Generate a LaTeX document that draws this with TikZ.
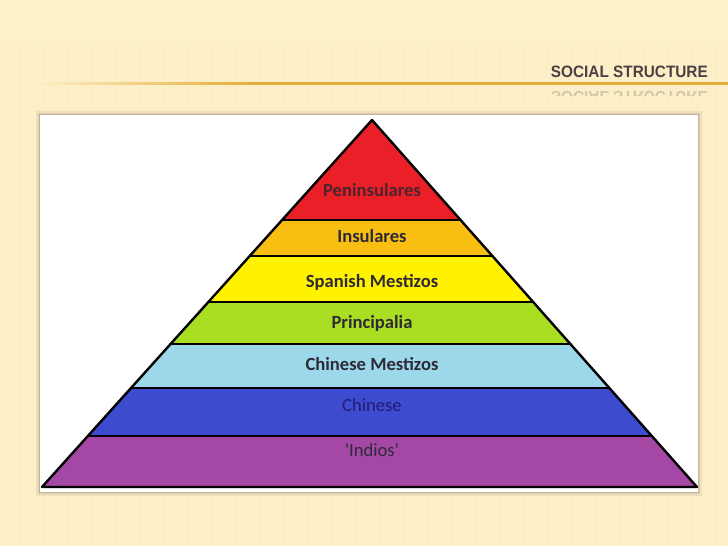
\documentclass[tikz,border=0pt]{standalone}
\usepackage{fontspec}
\setmainfont{Carlito}
\newfontfamily\titlefont[FakeStretch=0.93]{Liberation Sans}
\usetikzlibrary{calc,fadings}
\definecolor{cream}{HTML}{FEF0C9}
\definecolor{stripe}{HTML}{EBD9A6}
\definecolor{rule}{HTML}{E6AE3C}
\definecolor{titlecol}{HTML}{4A4242}
\definecolor{lred}{HTML}{EA1F27}
\definecolor{lorange}{HTML}{F8BE12}
\definecolor{lyellow}{HTML}{FFF200}
\definecolor{lgreen}{HTML}{A9DE22}
\definecolor{lcyan}{HTML}{9CD8EA}
\definecolor{lblue}{HTML}{3D4BCF}
\definecolor{lpurple}{HTML}{A447A5}
\definecolor{labcol}{HTML}{2E2A35}
\tikzset{
  layer/.style={draw=none},
  lab/.style={font=\fontsize{18.6}{21}\selectfont\bfseries, text=labcol, inner sep=0pt},
  labthin/.style={font=\fontsize{18.6}{21}\selectfont, text=labcol, inner sep=0pt},
  edge/.style={line width=2.4pt, black, line cap=round, line join=round},
  titlestyle/.style={anchor=base east, inner sep=0pt, text=titlecol, font=\titlefont\bfseries\fontsize{16.5}{18}\selectfont}
}
\begin{document}
\begin{tikzpicture}[x=1pt,y=-1pt]
\useasboundingbox (0,0) rectangle (728,546);
\fill[cream] (0,0) rectangle (728,546);
% faint stripes
\foreach \x in {0,3,...,728}{
  \draw[stripe, line width=0.5pt, opacity=0.2] (\x,45) -- (\x,546);
}
% rule line
\shade[left color=cream, right color=rule] (30,82) rectangle (250,84.5);
\fill[rule] (250,82) rectangle (728,84.5);
% title
\node[titlestyle] (title) at (708,77) {SOCIAL STRUCTURE};
\begin{scope}
\clip (540,85) rectangle (728,95);
\node[titlestyle, opacity=0.22, yscale=-1] (reflect) at (708,91) {SOCIAL STRUCTURE};
\end{scope}
% picture frame with shadow
\fill[black, opacity=0.06] (36,111) rectangle (702,496);
\fill[black, opacity=0.08] (38,113) rectangle (700,494);
\fill[black, opacity=0.10] (39,114) rectangle (699,493);
\fill[white] (40,115) rectangle (698,492);
% pyramid
\coordinate (A) at (372,120);
\coordinate (L) at (42,487);
\coordinate (R) at (697,487);
\def\layer#1#2#3{\fill[#1] ($(A)!#2!(L)$) -- ($(A)!#2!(R)$) -- ($(A)!#3!(R)$) -- ($(A)!#3!(L)$) -- cycle;}
\fill[lred] (A) -- ($(A)!0.2725!(R)$) -- ($(A)!0.2725!(L)$) -- cycle;
\layer{lorange}{0.2725}{0.3706}
\layer{lyellow}{0.3706}{0.4959}
\layer{lgreen}{0.4959}{0.6104}
\layer{lcyan}{0.6104}{0.7302}
\layer{lblue}{0.7302}{0.8610}
\layer{lpurple}{0.8610}{1}
\foreach \t in {0.2725,0.3706,0.4959,0.6104,0.7302,0.8610}{
  \draw[edge] ($(A)!\t!(L)$) -- ($(A)!\t!(R)$);
}
\draw[edge] (A) -- (R) -- (L) -- cycle;
% labels
\node[lab, text=labcol!85!red] (peninsulares) at (372,190) {Peninsulares};
\node[lab] (insulares) at (372,236) {Insulares};
\node[lab] (spanish) at (372,282) {Spanish Mestizos};
\node[lab] (principalia) at (372,323) {Principalia};
\node[lab] (chmestizos) at (372,364) {Chinese Mestizos};
\node[labthin, text=labcol!70!blue] (chinese) at (372,405) {Chinese};
\node[labthin] (indios) at (372,450) {\textquotesingle Indios\textquotesingle};
\end{tikzpicture}
\end{document}
